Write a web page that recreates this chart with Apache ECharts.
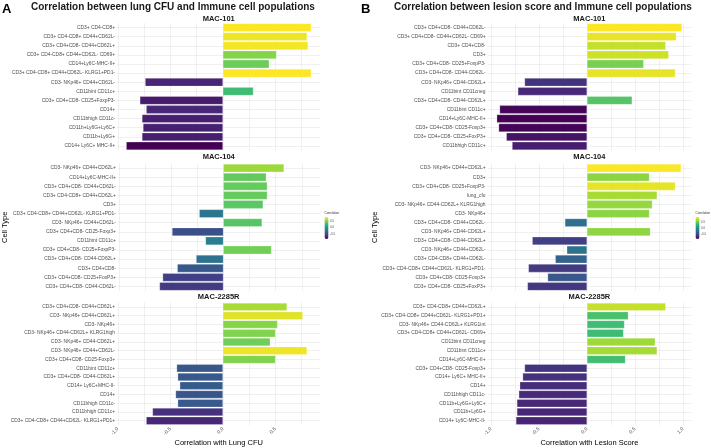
<!DOCTYPE html>
<html>
<head>
<meta charset="utf-8">
<script src="https://cdn.jsdelivr.net/npm/echarts@6/dist/echarts.min.js"></script>
<style>
  html, body { margin: 0; padding: 0; background: #fff; }
  #chart { width: 711px; height: 448px; }
</style>
</head>
<body>
<div id="chart"></div>
<script>
const facetNames = ['MAC-101', 'MAC-104', 'MAC-2285R']

// Panel A: correlation with lung CFU
const lungCats101 = ['CD3+ CD4-CD8+', 'CD3+ CD4-CD8+ CD44+CD62L-', 'CD3+ CD4+CD8- CD44+CD62L+', 'CD3+ CD4-CD8+ CD44+CD62L- CD69+', 'CD14+Ly6C-MHC-II+', 'CD3+ CD4-CD8+ CD44+CD62L- KLRG1+PD1-', 'CD3- NKp46+ CD44+CD62L-', 'CD11bint CD11c+', 'CD3+ CD4+CD8- CD25+FoxpP3-', 'CD14+', 'CD11bhigh CD11c-', 'CD11b+Ly6G+Ly6C+', 'CD11b+Ly6G+', 'CD14+ Ly6C+ MHC-II+']
const lungVals101 = [0.84, 0.80, 0.81, 0.51, 0.44, 0.84, -0.74, 0.29, -0.79, -0.73, -0.77, -0.76, -0.77, -0.92]

const lungCats104 = ['CD3- NKp46+ CD44+CD62L+', 'CD14+Ly6C-MHC-II+', 'CD3+ CD4+CD8- CD44+CD62L-', 'CD3+ CD4-CD8+ CD44+CD62L+', 'CD3+', 'CD3+ CD4-CD8+ CD44+CD62L- KLRG1+PD1-', 'CD3- NKp46+ CD44+CD62L-', 'CD3+ CD4+CD8- CD25-Foxp3+', 'CD11bint CD11c+', 'CD3+ CD4+CD8- CD25+FoxpP3-', 'CD3+ CD4+CD8- CD44-CD62L+', 'CD3+ CD4+CD8-', 'CD3+ CD4+CD8- CD25+FoxP3+', 'CD3+ CD4+CD8- CD44-CD62L-']
const lungVals104 = [0.58, 0.41, 0.42, 0.42, 0.38, -0.23, 0.37, -0.49, -0.17, 0.46, -0.26, -0.44, -0.58, -0.61]

const lungCats2285 = ['CD3+ CD4+CD8- CD44+CD62L+', 'CD3- NKp46+ CD44+CD62L+', 'CD3- NKp46+', 'CD3- NKp46+ CD44-CD62L+ KLRG1high', 'CD3- NKp46+ CD44-CD62L+', 'CD3- NKp46+ CD44+CD62L-', 'CD3+ CD4+CD8- CD25-Foxp3+', 'CD11bint CD11c+', 'CD3+ CD4+CD8- CD44-CD62L+', 'CD14+ Ly6C+MHC-II-', 'CD14+', 'CD11bhigh CD11c-', 'CD11bhigh CD11c+', 'CD3+ CD4-CD8+ CD44+CD62L- KLRG1+PD1+']
const lungVals2285 = [0.61, 0.76, 0.52, 0.50, 0.45, 0.80, 0.50, -0.44, -0.43, -0.41, -0.45, -0.43, -0.67, -0.73]

// Panel B: correlation with lesion score
const lesionCats101 = ['CD3+ CD4+CD8- CD44+CD62L-', 'CD3+ CD4+CD8- CD44+CD62L- CD69+', 'CD3+ CD4+CD8-', 'CD3+', 'CD3+ CD4+CD8- CD25+FoxpP3-', 'CD3+ CD4+CD8- CD44-CD62L-', 'CD3- NKp46+ CD44-CD62L+', 'CD11bint CD11cneg', 'CD3+ CD4+CD8- CD44-CD62L+', 'CD11bint CD11c+', 'CD14+Ly6C-MHC-II+', 'CD3+ CD4+CD8- CD25-Foxp3+', 'CD3+ CD4+CD8- CD25+FoxP3+', 'CD11bhigh CD11c+']
const lesionVals101 = [0.99, 0.93, 0.82, 0.85, 0.59, 0.92, -0.65, -0.72, 0.47, -0.91, -0.94, -0.92, -0.84, -0.78]

const lesionCats104 = ['CD3- NKp46+ CD44+CD62L+', 'CD3+', 'CD3+ CD4+CD8- CD25+FoxpP3-', 'lung_cfu', 'CD3- NKp46+ CD44-CD62L+ KLRG1high', 'CD3- NKp46+', 'CD3+ CD4+CD8- CD44+CD62L-', 'CD3- NKp46+ CD44-CD62L+', 'CD3+ CD4+CD8- CD44-CD62L+', 'CD3- NKp46+ CD44+CD62L-', 'CD3+ CD4-CD8+ CD44+CD62L-', 'CD3+ CD4-CD8+ CD44+CD62L- KLRG1+PD1-', 'CD3+ CD4+CD8- CD25-Foxp3+', 'CD3+ CD4+CD8- CD25+FoxP3+']
const lesionVals104 = [0.98, 0.65, 0.92, 0.73, 0.68, 0.65, -0.23, 0.66, -0.57, -0.21, -0.33, -0.61, -0.41, -0.62]

const lesionCats2285 = ['CD3+ CD4-CD8+ CD44+CD62L+', 'CD3+ CD4-CD8+ CD44+CD62L- KLRG1+PD1+', 'CD3- NKp46+ CD44-CD62L+ KLRG1int', 'CD3+ CD4-CD8+ CD44+CD62L- CD69+', 'CD11bint CD11cneg', 'CD11bint CD11c+', 'CD14+Ly6C-MHC-II+', 'CD3+ CD4+CD8- CD25-Foxp3+', 'CD14+ Ly6C+ MHC-II+', 'CD14+', 'CD11bhigh CD11c-', 'CD11b+Ly6G+Ly6C+', 'CD11b+Ly6G+', 'CD14+ Ly6C-MHC-II-']
const lesionVals2285 = [0.82, 0.43, 0.39, 0.38, 0.71, 0.73, 0.40, -0.65, -0.67, -0.70, -0.71, -0.73, -0.73, -0.74]

const xTicks = [-1, -0.5, 0, 0.5, 1]
const xGridTicks = [-1, -0.75, -0.5, -0.25, 0, 0.25, 0.5, 0.75, 1]
const legendTicks = [0.5, 0, -0.5]

const viridis = ['#440154', '#482878', '#3e4989', '#31688e', '#26828e', '#1f9e89', '#35b779', '#6ece58', '#b5de2b', '#fde725']
const FONT = 'Liberation Sans, Arial, sans-serif'

const panels = [
	{
		tag: 'A',
		title: 'Correlation between lung CFU and Immune cell populations',
		xName: 'Correlation with Lung CFU',
		cats: [lungCats101, lungCats104, lungCats2285],
		vals: [lungVals101, lungVals104, lungVals2285],
		left: 117, width: 203.4,
		legendLeft: 324.5,
		nameGap: 104,
		tagX: 2, titleX: 31,
	},
	{
		tag: 'B',
		title: 'Correlation between lesion score and Immune cell populations',
		xName: 'Correlation with Lesion Score',
		cats: [lesionCats101, lesionCats104, lesionCats2285],
		vals: [lesionVals101, lesionVals104, lesionVals2285],
		left: 487.5, width: 203.8,
		legendLeft: 695.5,
		nameGap: 100,
		tagX: 361, titleX: 394,
	},
]

const facetTop = [23, 163.5, 302.5]
const facetHeight = 127.5
const stripY = [19, 157, 297]
const legendTop = 217
const legendH = 22

const chart = echarts.init(document.getElementById('chart'), null, { renderer: 'canvas' })

const grid = [], xAxis = [], yAxis = [], series = [], visualMap = [], graphic = []

panels.forEach((p, pi) => {
	const all = [].concat(...p.vals)
	const vmin = Math.min(...all)
	const vmax = Math.max(...all)
	const pad = (vmax - vmin) * 0.05
	const seriesIdx = []
	for (let f = 0; f < 3; f++) {
		const idx = pi * 3 + f
		const bottom = f === 2
		grid.push({ left: p.left, top: facetTop[f], width: p.width, height: facetHeight, containLabel: false })
		xAxis.push({
			gridIndex: idx,
			type: 'value',
			min: vmin - pad,
			max: vmax + pad,
			name: bottom ? p.xName : '',
			nameLocation: 'middle',
			nameGap: 13,
			nameTextStyle: { fontFamily: FONT, fontSize: 7.5, color: '#000' },
			axisLine: { show: false },
			axisTick: { show: false, customValues: xGridTicks },
			axisLabel: {
				show: bottom,
				customValues: xTicks,
				rotate: 45,
				margin: 3,
				fontSize: 5,
				fontFamily: FONT,
				color: '#4d4d4d',
				formatter: (v) => v.toFixed(1),
			},
			splitLine: { show: true, lineStyle: { color: '#e6e6e6', width: 0.6 } },
		})
		yAxis.push({
			gridIndex: idx,
			type: 'category',
			inverse: true,
			data: p.cats[f],
			name: f === 1 ? 'Cell Type' : '',
			nameLocation: 'middle',
			nameRotate: 90,
			nameGap: p.nameGap,
			nameTextStyle: { fontFamily: FONT, fontSize: 7.5, color: '#000' },
			axisLine: { show: false },
			axisTick: { show: false },
			axisLabel: { interval: 0, fontSize: 4.9, fontFamily: FONT, color: '#4d4d4d', margin: 2 },
			splitLine: { show: true, interval: 0, alignWithLabel: true, lineStyle: { color: '#e6e6e6', width: 0.6 } },
		})
		series.push({
			type: 'bar',
			xAxisIndex: idx,
			yAxisIndex: idx,
			data: p.vals[f],
			barCategoryGap: '10%',
			itemStyle: { borderColor: 'rgba(255,255,255,0.6)', borderWidth: 0.4 },
		})
		seriesIdx.push(idx)
		graphic.push({
			type: 'text',
			x: p.left + p.width / 2,
			y: stripY[f],
			style: { text: facetNames[f], fontFamily: FONT, fontSize: 7.5, fontWeight: 'bold', fill: '#1a1a1a', align: 'center', verticalAlign: 'middle' },
		})
	}
	visualMap.push({
		type: 'continuous',
		seriesIndex: seriesIdx,
		dimension: 0,
		min: vmin,
		max: vmax,
		inRange: { color: viridis },
		calculable: false,
		orient: 'vertical',
		itemWidth: 4,
		itemHeight: legendH,
		left: p.legendLeft,
		top: legendTop,
		padding: 0,
	})
	graphic.push({
		type: 'text',
		x: p.legendLeft,
		y: legendTop - 2,
		style: { text: 'Correlation', fontFamily: FONT, fontSize: 3, fill: '#333', verticalAlign: 'bottom' },
	})
	legendTicks.forEach((t) => {
		graphic.push({
			type: 'text',
			x: p.legendLeft + 5.5,
			y: legendTop + ((vmax - t) / (vmax - vmin)) * legendH,
			style: { text: t.toFixed(1), fontFamily: FONT, fontSize: 3, fill: '#4d4d4d', verticalAlign: 'middle' },
		})
	})
	graphic.push({
		type: 'text',
		x: p.tagX,
		y: 3,
		style: { text: p.tag, fontFamily: FONT, fontSize: 13, fontWeight: 'bold', fill: '#000' },
	})
	graphic.push({
		type: 'text',
		x: p.titleX,
		y: 2,
		style: { text: p.title, fontFamily: FONT, fontSize: 10, fontWeight: 'bold', fill: '#1a1a1a' },
	})
})

chart.setOption({
	backgroundColor: '#ffffff',
	animation: false,
	grid,
	xAxis,
	yAxis,
	visualMap,
	series,
	graphic,
})
</script>
</body>
</html>
